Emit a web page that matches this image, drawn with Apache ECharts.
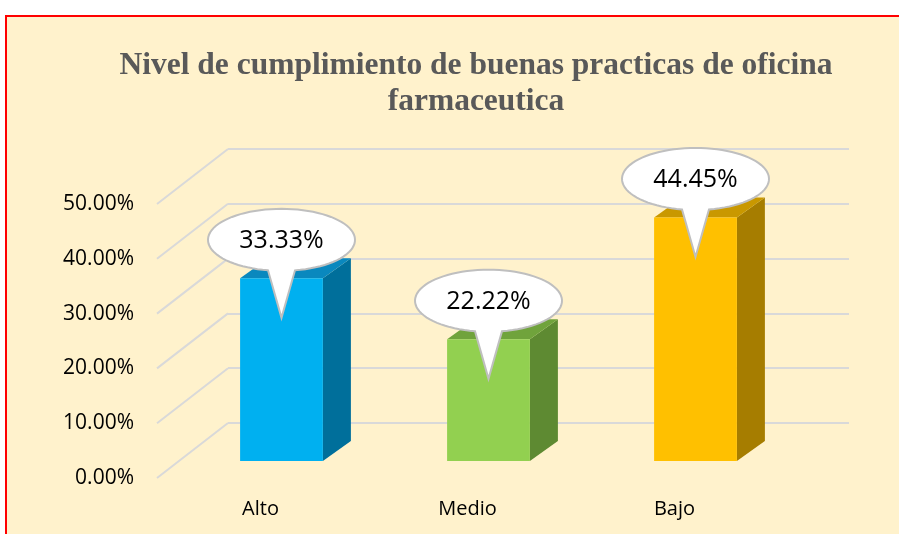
<!DOCTYPE html>
<html>
<head>
<meta charset="utf-8">
<script src="https://cdn.jsdelivr.net/npm/echarts@6/dist/echarts.min.js"></script>
<style>
  html, body { margin: 0; padding: 0; background: #ffffff; }
  #bg { position: absolute; left: 5px; top: 15px; width: 900px; height: 530px;
        background: #FFF2CC; border-left: 2px solid #FF0000; border-top: 2px solid #FF0000; }
  #chart { position: absolute; left: 0; top: 0; width: 899px; height: 534px; }
</style>
</head>
<body>
<div id="bg"></div>
<div id="chart"></div>
<script>
const titleText = 'Nivel de cumplimiento de buenas practicas de oficina\nfarmaceutica';
const categories = ['Alto', 'Medio', 'Bajo'];
const values = [0.3333, 0.2222, 0.4445];
const valueLabels = ['33.33%', '22.22%', '44.45%'];
const yTicks = [0, 0.1, 0.2, 0.3, 0.4, 0.5];
const frontColors = ['#00B0F0', '#92D050', '#FFC000'];
const sideColors = ['#006F9B', '#5E8A32', '#A67D00'];
const topColors = ['#0A88BE', '#70A33C', '#C99800'];

// pseudo-3D geometry (styles)
const WALL_DX = -71, WALL_DY = 55;     // from back wall to front plane
const BAR_FX = -50, BAR_FY = 38;       // bar front face offset from back wall
const BAR_DX = 28, BAR_DY = -20;       // bar depth
const GRID_COLOR = '#D9D9D9';

const chart = echarts.init(document.getElementById('chart'), null, { renderer: 'canvas' });

function pct(v) { return (v * 100).toFixed(2) + '%'; }

const barData = values.map((v, i) => [i, v]);
const tickData = yTicks.map(v => [0, v]);

chart.setOption({
  backgroundColor: 'transparent',
  animation: false,
  title: {
    text: titleText,
    left: 471,
    textAlign: 'center',
    top: 43,
    textStyle: {
      fontFamily: '"Liberation Serif", serif',
      fontSize: 31.5,
      fontWeight: 'bold',
      lineHeight: 36,
      color: '#595959'
    }
  },
  grid: [
    { left: 228, right: 50, top: 149, bottom: 111 },   // back wall
    { left: 157, right: 121, top: 204, bottom: 56 }    // front plane
  ],
  xAxis: [
    { type: 'category', gridIndex: 0, data: categories, show: false, boundaryGap: true },
    { type: 'category', gridIndex: 1, data: categories, boundaryGap: true,
      axisLine: { show: false }, axisTick: { show: false },
      axisLabel: { margin: 21, fontSize: 20, color: '#000000', fontFamily: '"Open Sans", sans-serif' } }
  ],
  yAxis: [
    { type: 'value', gridIndex: 0, min: 0, max: 0.5, interval: 0.1,
      axisLine: { show: false }, axisTick: { show: false }, axisLabel: { show: false },
      splitLine: { show: true, lineStyle: { color: GRID_COLOR, width: 2 } } },
    { type: 'value', gridIndex: 1, min: 0, max: 0.5, interval: 0.1,
      axisLine: { show: false }, axisTick: { show: false }, splitLine: { show: false },
      axisLabel: { margin: 23, fontSize: 21, color: '#000000', fontFamily: '"Open Sans", sans-serif',
        formatter: pct } }
  ],
  series: [
    {
      type: 'custom', xAxisIndex: 0, yAxisIndex: 0, clip: false, z: 1, silent: true,
      data: tickData,
      renderItem: function (params, api) {
        const p = api.coord([0, api.value(1)]);
        const x0 = params.coordSys.x;
        return {
          type: 'line',
          shape: { x1: x0 + WALL_DX, y1: p[1] + WALL_DY, x2: x0, y2: p[1] },
          style: { stroke: GRID_COLOR, lineWidth: 2 }
        };
      }
    },
    {
      type: 'custom', xAxisIndex: 0, yAxisIndex: 0, clip: false, z: 2, silent: true,
      data: barData,
      renderItem: function (params, api) {
        const i = params.dataIndex;
        const p0 = api.coord([api.value(0), 0]);
        const p1 = api.coord([api.value(0), api.value(1)]);
        const w = api.size([1, 0])[0] * 0.40;
        const cx = p0[0] + BAR_FX;
        const L = cx - w / 2, R = cx + w / 2;
        const yb = p0[1] + BAR_FY, yt = p1[1] + BAR_FY;
        return {
          type: 'group',
          children: [
            { type: 'polygon', shape: { points: [[R, yb], [R, yt], [R + BAR_DX, yt + BAR_DY], [R + BAR_DX, yb + BAR_DY]] },
              style: { fill: sideColors[i] } },
            { type: 'polygon', shape: { points: [[L, yt], [R, yt], [R + BAR_DX, yt + BAR_DY], [L + BAR_DX, yt + BAR_DY]] },
              style: { fill: topColors[i] } },
            { type: 'rect', shape: { x: L, y: yt, width: w, height: yb - yt },
              style: { fill: frontColors[i] } }
          ]
        };
      }
    },
    {
      type: 'custom', xAxisIndex: 0, yAxisIndex: 0, clip: false, z: 3, silent: true,
      data: barData,
      renderItem: function (params, api) {
        const i = params.dataIndex;
        const p1 = api.coord([api.value(0), api.value(1)]);
        const cx = p1[0] + BAR_FX;
        const top = p1[1] + BAR_FY;
        const cy = top - 38.5;
        const rx = 73.5, ry = 31;
        const tipY = top + 39.5;
        const half = 13.5;
        const a0 = Math.acos(half / rx);
        const start = Math.PI - a0;
        const end = 2 * Math.PI + a0;
        const pts = [];
        const n = 80;
        for (let k = 0; k <= n; k++) {
          const t = start + (end - start) * k / n;
          pts.push([cx + rx * Math.cos(t), cy + ry * Math.sin(t)]);
        }
        pts.push([cx, tipY]);
        return {
          type: 'group',
          children: [
            { type: 'polygon', shape: { points: pts },
              style: { fill: '#FFFFFF', stroke: '#BFBFBF', lineWidth: 2 } },
            { type: 'text', x: cx, y: cy + 1,
              style: { text: valueLabels[i], align: 'center', verticalAlign: 'middle',
                font: '25px "Open Sans", sans-serif', fill: '#000000' } }
          ]
        };
      }
    }
  ]
});
</script>
</body>
</html>
